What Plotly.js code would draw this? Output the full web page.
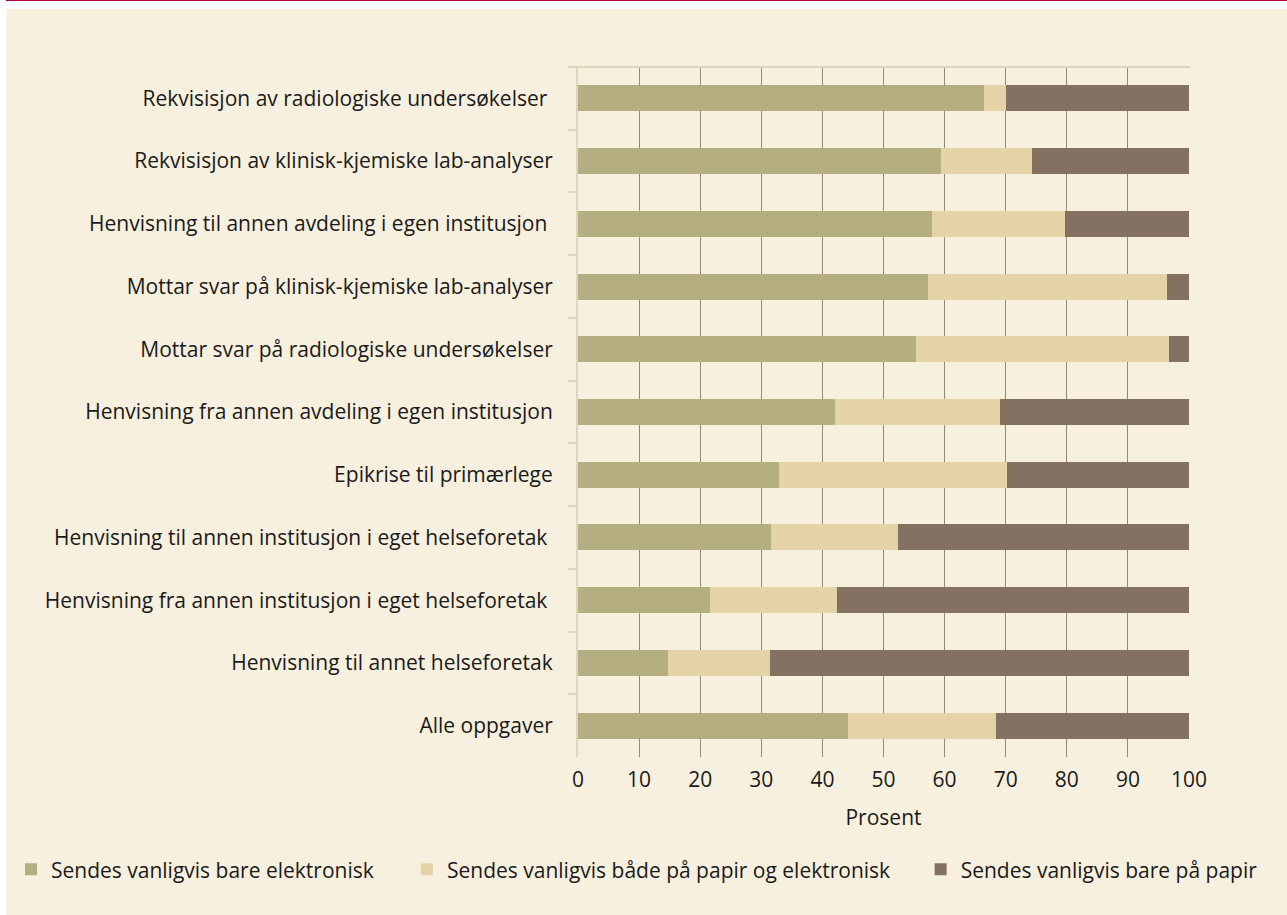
<!DOCTYPE html>
<html>
<head>
<meta charset="utf-8">
<script src="https://cdn.plot.ly/plotly-3.0.1.min.js"></script>
<style>
  html, body { margin: 0; padding: 0; background: #ffffff; width: 1287px; height: 915px; overflow: hidden; }
  #topline { position: absolute; left: 6px; top: 0; width: 1281px; height: 1px; background: #b4003c; }
  #chart { position: absolute; left: 6px; top: 9px; width: 1281px; height: 906px; }
</style>
</head>
<body>
<div id="topline"></div>
<div id="chart"></div>
<script>
const categories = [
  "Rekvisisjon av radiologiske undersøkelser\u00a0",
  "Rekvisisjon av klinisk-kjemiske lab-analyser",
  "Henvisning til annen avdeling i egen institusjon\u00a0",
  "Mottar svar på klinisk-kjemiske lab-analyser",
  "Mottar svar på radiologiske undersøkelser",
  "Henvisning fra annen avdeling i egen institusjon",
  "Epikrise til primærlege",
  "Henvisning til annen institusjon i eget helseforetak\u00a0",
  "Henvisning fra annen institusjon i eget helseforetak\u00a0",
  "Henvisning til annet helseforetak",
  "Alle oppgaver"
];
const seriesNames = [
  "Sendes vanligvis bare elektronisk",
  "Sendes vanligvis både på papir og elektronisk",
  "Sendes vanligvis bare på papir"
];
const onlyElectronic = [66.4, 59.4, 57.9, 57.3, 55.3, 42.1, 32.9, 31.6, 21.6, 14.7, 44.2];
const paperAndElectronic = [3.6, 14.9, 21.8, 39.1, 41.4, 27.0, 37.3, 20.8, 20.8, 16.7, 24.2];
const onlyPaper = [30.0, 25.7, 20.3, 3.6, 3.3, 30.9, 29.8, 47.6, 57.6, 68.6, 31.6];
const xTickValues = [0, 10, 20, 30, 40, 50, 60, 70, 80, 90, 100];
const xAxisTitle = "Prosent";

const colors = ["#b5ae80", "#e4d3a7", "#857161"];
const values = [onlyElectronic, paperAndElectronic, onlyPaper];
const legendIds = ["legend", "legend2", "legend3"];

const traces = values.map((v, i) => ({
  type: "bar",
  orientation: "h",
  name: seriesNames[i],
  x: v,
  y: categories,
  legend: legendIds[i],
  marker: { color: colors[i], line: { width: 0 } },
  hoverinfo: "x+y+name"
}));

const FONT = "'Open Sans', 'Noto Sans', sans-serif";
const FS = 21;
const TXT = "#1a1a1a";
const light = "#ddd5bd";

function legendAt(xFrac) {
  return {
    orientation: "h",
    xref: "container", yref: "container",
    x: xFrac, y: 0.05, xanchor: "left", yanchor: "middle",
    bgcolor: "rgba(0,0,0,0)",
    borderwidth: 0,
    font: { family: FONT, size: FS, color: TXT }
  };
}

const layout = {
  width: 1281,
  height: 906,
  margin: { l: 572, r: 98, t: 58, b: 158, pad: 0 },
  paper_bgcolor: "#f7f0de",
  plot_bgcolor: "#f7f0de",
  barmode: "stack",
  bargap: 0.585,
  font: { family: FONT, size: FS, color: TXT },
  xaxis: {
    range: [0, 100],
    tickvals: xTickValues,
    ticktext: xTickValues.map(String),
    showgrid: true,
    gridcolor: "#968878",
    gridwidth: 1,
    zeroline: false,
    showline: false,
    ticks: "",
    ticklabelstandoff: 8,
    tickfont: { family: FONT, size: FS, color: TXT },
    title: { text: xAxisTitle, font: { family: FONT, size: FS, color: TXT }, standoff: 18 },
    fixedrange: true
  },
  yaxis: {
    type: "category",
    autorange: "reversed",
    showline: true,
    linecolor: light,
    linewidth: 2,
    ticks: "outside",
    tickson: "boundaries",
    ticklen: 8,
    tickwidth: 2,
    tickcolor: light,
    showgrid: false,
    zeroline: false,
    ticklabelstandoff: 19,
    tickfont: { family: FONT, size: FS, color: TXT },
    fixedrange: true
  },
  shapes: [
    { type: "line", xref: "paper", yref: "paper", x0: -0.015, x1: 1.002, y0: 1, y1: 1,
      line: { color: light, width: 2 }, layer: "above" }
  ],
  showlegend: true,
  legend: legendAt(0.0039),
  legend2: legendAt(0.313),
  legend3: legendAt(0.714)
};

Plotly.newPlot("chart", traces, layout, { displayModeBar: false, staticPlot: true });
</script>
</body>
</html>
